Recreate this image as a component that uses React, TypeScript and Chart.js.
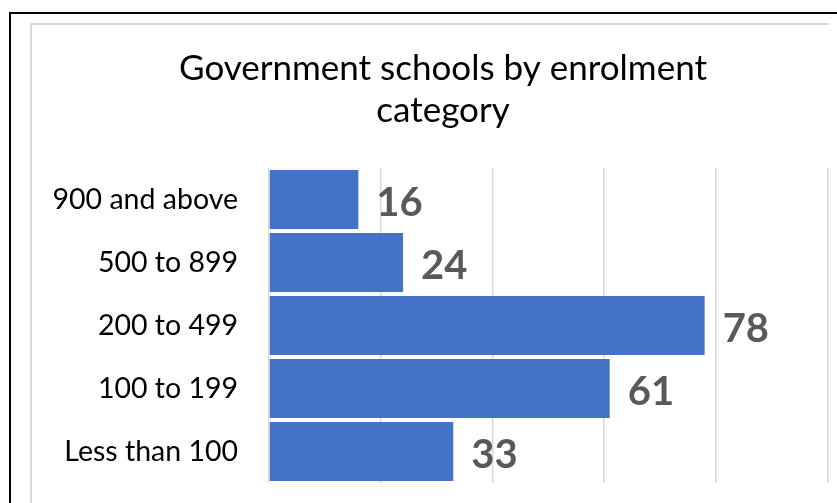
import React, { useEffect, useRef } from "react";
import { Chart, registerables } from "chart.js";

Chart.register(...registerables);

const categories = ["900 and above", "500 to 899", "200 to 499", "100 to 199", "Less than 100"];
const schools = [16, 24, 78, 61, 33];
const titleLines = ["Government schools by enrolment", "category"];
const xMin = 0;
const xMax = 100;
const xStep = 20;

const FONT = "Lato, 'Open Sans', sans-serif";

const valueLabels = {
  id: "valueLabels",
  afterDatasetsDraw(chart: any) {
    const ctx = chart.ctx;
    const meta = chart.getDatasetMeta(0);
    const data = chart.data.datasets[0].data;
    ctx.save();
    ctx.font = `bold 40px ${FONT}`;
    ctx.fillStyle = "#595959";
    ctx.textAlign = "left";
    ctx.textBaseline = "alphabetic";
    meta.data.forEach((bar: any, i: number) => {
      ctx.fillText(String(data[i]), bar.x + 18, bar.y + 16.5);
    });
    ctx.restore();
  },
};

const chartTitle = {
  id: "chartTitle",
  afterDraw(chart: any) {
    const ctx = chart.ctx;
    ctx.save();
    ctx.font = `normal 35px ${FONT}`;
    ctx.fillStyle = "#000000";
    ctx.textAlign = "center";
    ctx.textBaseline = "alphabetic";
    const cx = 411;
    titleLines.forEach((line, i) => {
      ctx.fillText(line, cx, 55 + i * 42);
    });
    ctx.restore();
  },
};

export default function App() {
  const ref = useRef<HTMLCanvasElement | null>(null);
  useEffect(() => {
    if (!ref.current) return;
    const chart = new Chart(ref.current, {
      type: "bar",
      data: {
        labels: categories,
        datasets: [
          {
            data: schools,
            backgroundColor: "#4472C4",
            borderWidth: 0,
            barPercentage: 0.94,
            categoryPercentage: 1,
          },
        ],
      },
      options: {
        indexAxis: "y",
        responsive: false,
        animation: false,
        layout: { padding: { left: 0, right: 26.5, top: 143, bottom: 20 } },
        plugins: {
          legend: { display: false },
          tooltip: { enabled: false },
          title: { display: false },
        },
        scales: {
          x: {
            min: xMin,
            max: xMax,
            ticks: { display: false, stepSize: xStep },
            grid: { color: "#d9d9d9", lineWidth: 1.5, drawTicks: false },
            border: { display: false },
          },
          y: {
            grid: { display: false, drawTicks: false },
            border: { display: false },
            ticks: {
              color: "#000000",
              padding: 31,
              font: { family: FONT, size: 28.5 },
            },
            afterFit(scale: any) {
              scale.width = 237;
              scale.paddingTop = 0;
              scale.paddingBottom = 0;
            },
          },
        },
      },
      plugins: [valueLabels, chartTitle],
    });
    return () => chart.destroy();
  }, []);

  return (
    <div
      style={{
        position: "fixed",
        left: 0,
        top: 0,
        width: 837,
        height: 503,
        overflow: "hidden",
        background: "#ffffff",
      }}
    >
      <div style={{ position: "absolute", left: 9, top: 12, width: 840, height: 2, background: "#000" }} />
      <div style={{ position: "absolute", left: 9, top: 12, width: 2, height: 500, background: "#000" }} />
      <div style={{ position: "absolute", left: 30, top: 23, width: 799, height: 2, background: "#d9d9d9" }} />
      <div style={{ position: "absolute", left: 30, top: 23, width: 2, height: 490, background: "#d9d9d9" }} />
      <canvas
        ref={ref}
        width={822}
        height={478}
        style={{ position: "absolute", left: 32, top: 25, width: 822, height: 478 }}
      />
    </div>
  );
}
